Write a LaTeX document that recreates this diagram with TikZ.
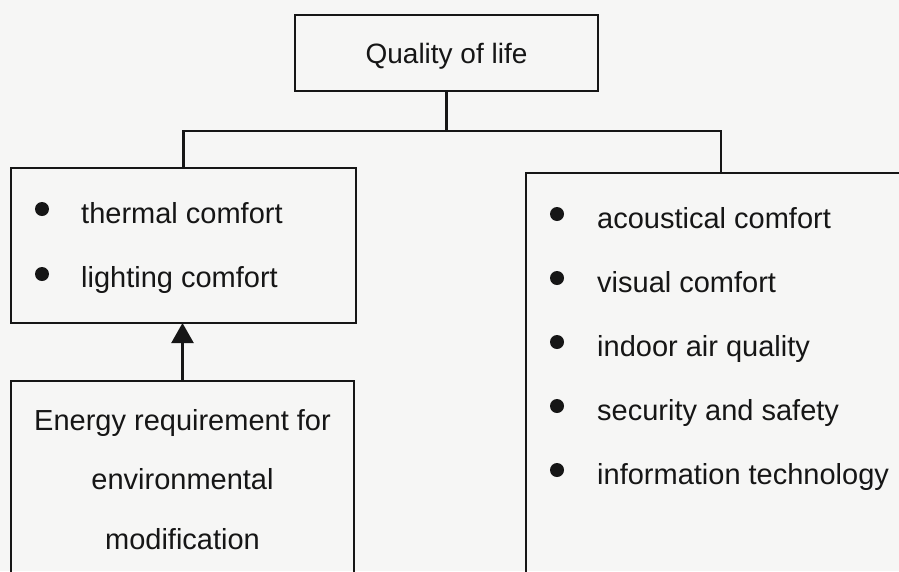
\documentclass[tikz,border=0pt]{standalone}
\usepackage{fontspec}
\setmainfont{Liberation Sans}
\usetikzlibrary{arrows.meta}
\definecolor{paper}{RGB}{246,246,245}
\definecolor{ink}{RGB}{22,22,22}
\begin{document}
\begin{tikzpicture}[x=1pt,y=-1pt,
  box/.style={draw=ink, line width=2.7pt, inner sep=0pt, outer sep=0pt, anchor=north west},
  lbl/.style={text=ink, font=\fontsize{29}{34}\selectfont, inner sep=0pt},
  dot/.style={circle, fill=ink, inner sep=0pt, minimum size=14pt},
  link/.style={draw=ink, line width=2.4pt}]
\fill[paper] (0,0) rectangle (899,571);
\useasboundingbox (0,0) rectangle (899,571);
\clip (0,0) rectangle (899,571);
% boxes
\node[box, minimum width=303pt, minimum height=76pt] (top) at (295,15) {};
\node[box, minimum width=345pt, minimum height=155pt] (left) at (11,168) {};
\node[box, minimum width=343pt, minimum height=240pt] (energy) at (11,381) {};
\node[box, minimum width=390pt, minimum height=447pt] (right) at (526,173) {};
% connectors
\coordinate (h) at (0,131);
\coordinate (j) at (top.south |- h);
\draw[link] (top.south) -- (j);
\draw[link] (left.north) |- (j) -| (right.north);
\draw[link, -{Triangle[length=20pt,width=22pt]}] (energy.north) -- (energy.north |- left.south);
% texts
\node[lbl, font=\fontsize{28}{34}\selectfont, anchor=base] (qtext) at (446.5,63) {Quality of life};
\node[dot] (lb1) at (42,209) {};
\node[lbl, anchor=base west] (lt1) at (81,223) {thermal comfort};
\node[dot] (lb2) at (42,274) {};
\node[lbl, anchor=base west] (lt2) at (81,287) {lighting comfort};
\node[lbl, anchor=base] (e1) at (182.5,430) {Energy requirement for};
\node[lbl, anchor=base] (e2) at (182.5,489) {environmental};
\node[lbl, anchor=base] (e3) at (182.5,549) {modification};
\node[dot] (rb1) at (557,214) {};
\node[lbl, anchor=base west] (rt1) at (597,228) {acoustical comfort};
\node[dot] (rb2) at (557,278) {};
\node[lbl, anchor=base west] (rt2) at (597,292) {visual comfort};
\node[dot] (rb3) at (557,342) {};
\node[lbl, anchor=base west] (rt3) at (597,356) {indoor air quality};
\node[dot] (rb4) at (557,406) {};
\node[lbl, anchor=base west] (rt4) at (597,420) {security and safety};
\node[dot] (rb5) at (557,470) {};
\node[lbl, anchor=base west] (rt5) at (597,484) {information technology};
\end{tikzpicture}
\end{document}
